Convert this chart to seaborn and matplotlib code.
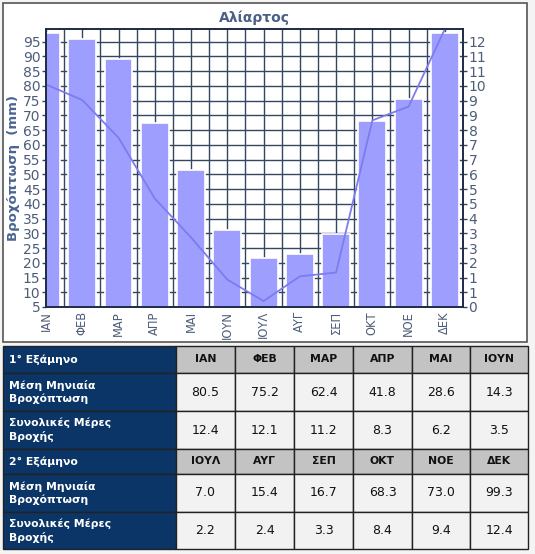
import numpy as np
import pandas as pd
import matplotlib
matplotlib.use('Agg')
import matplotlib.pyplot as plt
import seaborn as sns
from matplotlib.patches import Rectangle
from matplotlib.ticker import FixedLocator, FixedFormatter

# Monthly data for Aliartos
months = ['ΙΑΝ', 'ΦΕΒ', 'ΜΑΡ', 'ΑΠΡ', 'ΜΑΙ', 'ΙΟΥΝ', 'ΙΟΥΛ', 'ΑΥΓ', 'ΣΕΠ', 'ΟΚΤ', 'ΝΟΕ', 'ΔΕΚ']
precip = [80.5, 75.2, 62.4, 41.8, 28.6, 14.3, 7.0, 15.4, 16.7, 68.3, 73.0, 99.3]
rain_days = [12.4, 12.1, 11.2, 8.3, 6.2, 3.5, 2.2, 2.4, 3.3, 8.4, 9.4, 12.4]
row_labels = ['Μέση Μηνιαία\nΒροχόπτωση', 'Συνολικές Μέρες\nΒροχής']
half_labels = ['1° Εξάμηνο', '2° Εξάμηνο']

df = pd.DataFrame({'month': months, 'precip': precip, 'days': rain_days, 'pos': np.arange(12)})

sns.set_style('white')
plt.rcParams['font.family'] = ['DejaVu Sans']

fig = plt.figure(figsize=(5.35, 5.54), dpi=100, facecolor='#f4f4f4')

# background layer in pixel coordinates (chart box + table)
bg = fig.add_axes([0, 0, 1, 1], zorder=-5)
bg.set_xlim(0, 535)
bg.set_ylim(554, 0)
bg.axis('off')
bg.add_patch(Rectangle((3, 3), 524, 339, facecolor='white', edgecolor='#555555', lw=1.2))

# table
col_x = [3, 176, 235, 294, 353, 412, 470, 528]
row_y = [346, 373, 411, 449, 474, 512, 549]
navy = '#0b3567'
for r in range(6):
    half = r // 3
    kind = r % 3
    y0, y1 = row_y[r], row_y[r + 1]
    bg.add_patch(Rectangle((col_x[0], y0), col_x[1] - col_x[0], y1 - y0,
                           facecolor=navy, edgecolor='#222222', lw=1))
    label = half_labels[half] if kind == 0 else row_labels[kind - 1]
    bg.text(9, (y0 + y1) / 2, label, color='white', fontsize=7.8, fontweight='bold',
            va='center', ha='left', linespacing=1.35)
    for c in range(6):
        m = half * 6 + c
        x0, x1 = col_x[c + 1], col_x[c + 2]
        if kind == 0:
            fc, txt, fw, fs = '#c3c3c3', months[m], 'bold', 7.8
        elif kind == 1:
            fc, txt, fw, fs = '#f2f2f2', f'{precip[m]:.1f}', 'normal', 9
        else:
            fc, txt, fw, fs = '#f2f2f2', f'{rain_days[m]:.1f}', 'normal', 9
        bg.add_patch(Rectangle((x0, y0), x1 - x0, y1 - y0, facecolor=fc,
                               edgecolor='#222222', lw=1))
        bg.text((x0 + x1) / 2, (y0 + y1) / 2, txt, fontsize=fs, fontweight=fw,
                ha='center', va='center', color='#111111')

# chart
ax = fig.add_axes([46 / 535, 1 - 307 / 554, (463 - 46) / 535, (307 - 29) / 554])
ax2 = ax.twinx()

grid_c = '#34475f'
tick_c = '#4d5d78'

sns.barplot(data=df, x='pos', y='days', ax=ax, color='#9e9eff', saturation=1,
            width=0.77, edgecolor='white', linewidth=1.2, native_scale=True, zorder=2)
sns.lineplot(data=df, x='pos', y='precip', ax=ax2, color='#7c7cee', lw=1.3)

days_top = 12 * (99.3 - 5) / 90
ax.set_ylim(0, days_top)
ax2.set_ylim(5, 99.3)
ax.set_xlim(0, 11)

day_ticks = np.linspace(0, 12, 19)
ax.yaxis.set_major_locator(FixedLocator(day_ticks))
ax.yaxis.set_major_formatter(FixedFormatter([f'{v:.0f}' for v in day_ticks]))
ax.yaxis.tick_right()
ax.yaxis.set_label_position('right')
ax2.yaxis.tick_left()
ax2.yaxis.set_label_position('left')
ax2.set_yticks(np.arange(5, 100, 5))

ax.set_xticks(np.arange(12))
ax.set_xticks(np.arange(12) + 0.5, minor=True)
ax.set_xticklabels(months, rotation=90, va='top', ha='center')
ax.tick_params(axis='x', which='minor', length=0)

ax.set_axisbelow(True)
ax.grid(True, which='major', axis='both', color=grid_c, lw=1)
ax.grid(True, which='minor', axis='x', color=grid_c, lw=1)

ax.set_xlabel('')
ax.set_ylabel('')
ax2.set_xlabel('')
ax2.set_ylabel('Βροχόπτωση  (mm)', color='#4a6590', fontsize=9.5, fontweight='bold', labelpad=2)

for a in (ax, ax2):
    a.tick_params(axis='y', which='major', length=3, width=1, color=grid_c,
                  labelcolor=tick_c, labelsize=10, pad=1)
    for s in a.spines.values():
        s.set_color('#1c2c44')
        s.set_linewidth(1.2)
ax.tick_params(axis='x', which='major', length=3, width=1, color=grid_c,
               labelcolor=tick_c, labelsize=8.3, pad=0)

ax.set_title('Αλίαρτος', color='#4a6085', fontsize=10, fontweight='bold', pad=5)

fig.savefig('out.png', dpi=100, facecolor=fig.get_facecolor())
